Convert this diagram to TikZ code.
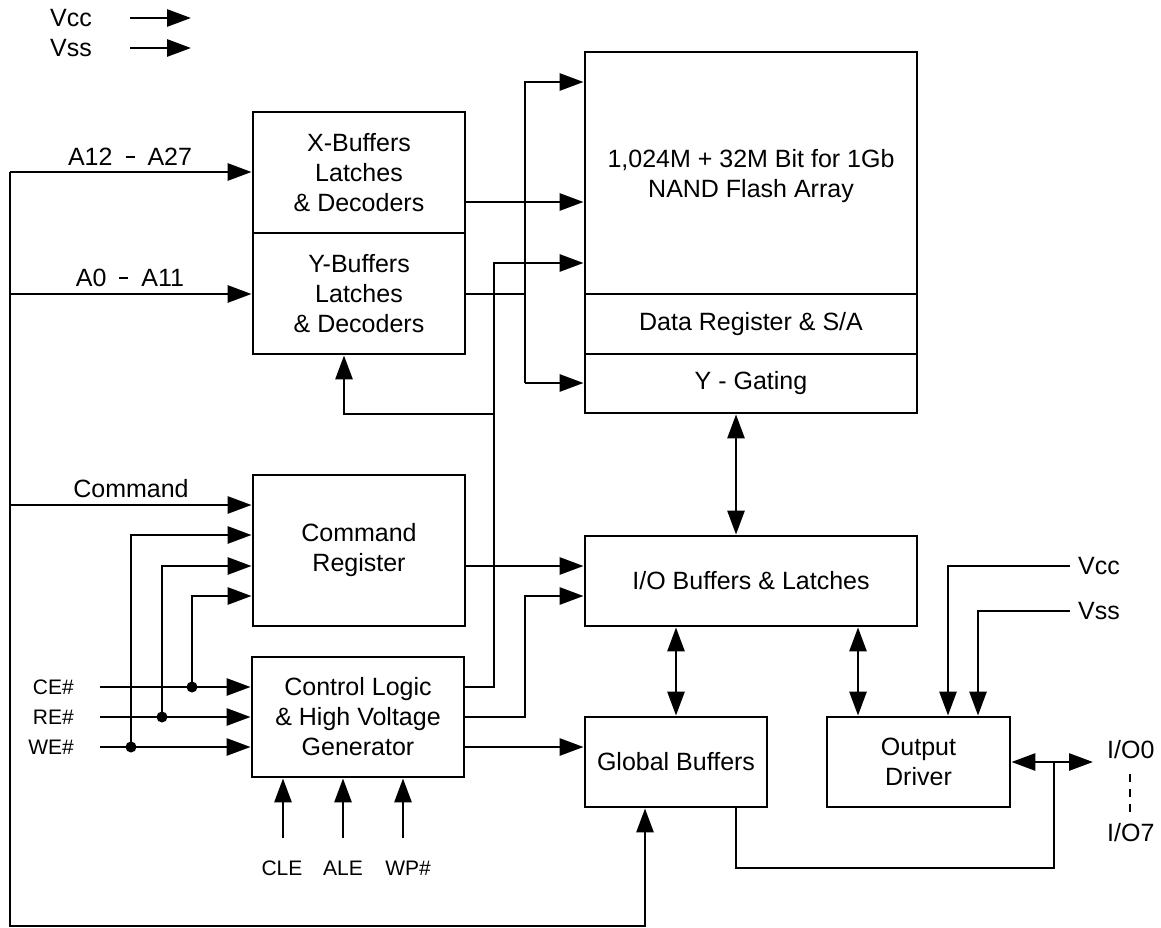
\documentclass[tikz,border=0pt]{standalone}
\usepackage{fontspec}
\setmainfont{Liberation Sans}
\usetikzlibrary{arrows.meta}
\begin{document}
\begin{tikzpicture}[x=1pt,y=-1pt,
  box/.style={draw,line width=2.8pt,inner sep=0pt,align=center,font=\fontsize{25}{30}\selectfont},
  wire/.style={line width=2.8pt},
  arr/.style={line width=2.8pt,-{Triangle[length=24pt,width=17pt]}},
  darr/.style={line width=2.8pt,{Triangle[length=24pt,width=17pt]}-{Triangle[length=24pt,width=17pt]}},
  lbl/.style={inner sep=0pt,font=\fontsize{25}{30}\selectfont},
  slbl/.style={inner sep=0pt,font=\fontsize{21}{25}\selectfont},
  jdot/.style={circle,fill,inner sep=0pt,minimum size=11pt},
  dashwire/.style={line width=2.2pt,dash pattern=on 8pt off 7pt},
]
\useasboundingbox (0,0) rectangle (1161,928);

% ---------- boxes ----------
\node[box,minimum width=212pt,minimum height=121pt] (xbuf) at (359,172.5) {X-Buffers\\Latches\\\& Decoders};
\node[box,minimum width=212pt,minimum height=121pt] (ybuf) at (359,293.5) {Y-Buffers\\Latches\\\& Decoders};
\node[box,minimum width=332pt,minimum height=242pt] (array) at (751,173) {};
\node[lbl,align=center] (arrtxt) at (751,176) {1,024M + 32M Bit for 1Gb\\NAND Flash Array};
\node[box,minimum width=332pt,minimum height=60pt] (dreg) at (751,324) {Data Register \& S/A};
\node[box,minimum width=332pt,minimum height=59pt] (ygate) at (751,383.5) {Y - Gating};
\node[box,minimum width=212pt,minimum height=151pt] (cmdreg) at (359,550.5) {Command\\Register};
\node[box,minimum width=212pt,minimum height=120pt] (ctrl) at (358,717) {Control Logic\\\& High Voltage\\Generator};
\node[box,minimum width=332pt,minimum height=90pt] (iobuf) at (751,581) {I/O Buffers \& Latches};
\node[box,minimum width=182pt,minimum height=90pt] (gbuf) at (676,762) {Global Buffers};
\node[box,minimum width=183pt,minimum height=90pt] (odrv) at (918.5,762) {Output\\Driver};

% ---------- top-left legend ----------
\node[lbl,anchor=west] (vcct) at (50,18) {Vcc};
\node[lbl,anchor=west] (vsst) at (50,48) {Vss};
\coordinate (vcta) at (130,18); \coordinate (vctb) at (191,18);
\coordinate (vsta) at (130,48); \coordinate (vstb) at (191,48);
\draw[arr] (vcta) -- (vctb);
\draw[arr] (vsta) -- (vstb);

% ---------- left bus ----------
\coordinate (bTL) at (10,172);
\coordinate (bA0) at (10,294);
\coordinate (bCmd) at (10,505);
\coordinate (bBL) at (10,926);
\coordinate (gx) at (645,926);
\draw[arr] (bTL) -- (bTL -| xbuf.west);
\draw[arr] (bA0) -- (bA0 -| ybuf.west);
\draw[arr] (bCmd) -- (bCmd -| cmdreg.west);
\draw[arr] (bTL) -- (bBL) -- (gx) -- (gx |- gbuf.south);
\node[lbl] (la12) at (130,157) {A12\hspace{13pt}\rule[8pt]{9pt}{1.3pt}\hspace{13pt}A27};
\node[lbl] (la0) at (130,278) {A0\hspace{13pt}\rule[8pt]{9pt}{1.3pt}\hspace{13pt}A11};
\node[lbl] (lcmd) at (131,489) {Command};

% ---------- CE# RE# WE# ----------
\node[slbl,anchor=east] (lce) at (74,687) {CE\#};
\node[slbl,anchor=east] (lre) at (74,717) {RE\#};
\node[slbl,anchor=east] (lwe) at (74,747) {WE\#};
\coordinate (ce) at (100,687);
\coordinate (re) at (100,717);
\coordinate (we) at (100,747);
\draw[arr] (ce) -- (ce -| ctrl.west);
\draw[arr] (re) -- (re -| ctrl.west);
\draw[arr] (we) -- (we -| ctrl.west);
\node[jdot] (dce) at (192,687) {};
\node[jdot] (dre) at (162,717) {};
\node[jdot] (dwe) at (131,747) {};
\coordinate (k1) at (131,535);
\coordinate (k2) at (162,566);
\coordinate (k3) at (192,596);
\draw[arr] (dwe.center) -- (k1) -- (k1 -| cmdreg.west);
\draw[arr] (dre.center) -- (k2) -- (k2 -| cmdreg.west);
\draw[arr] (dce.center) -- (k3) -- (k3 -| cmdreg.west);

% ---------- CLE ALE WP# ----------
\coordinate (cle) at (283,838);
\coordinate (ale) at (343,838);
\coordinate (wp) at (403,838);
\draw[arr] (cle) -- (cle |- ctrl.south);
\draw[arr] (ale) -- (ale |- ctrl.south);
\draw[arr] (wp) -- (wp |- ctrl.south);
\node[slbl] (lcle) at (282,868) {CLE};
\node[slbl] (lale) at (343,868) {ALE};
\node[slbl] (lwp) at (408,868) {WP\#};

% ---------- control logic outputs ----------
\coordinate (c1) at (494,687);
\coordinate (c1t) at (494,263);
\draw[arr] (c1 -| ctrl.east) -- (c1) -- (c1t) -- (c1t -| array.west);
\coordinate (br) at (494,414);
\coordinate (brl) at (344,414);
\draw[arr] (br) -- (brl) -- (brl |- ybuf.south);
\coordinate (c2) at (525,717);
\coordinate (c2t) at (525,596);
\draw[arr] (ctrl.east) -- (c2) -- (c2t) -- (c2t -| iobuf.west);
\coordinate (c3) at (585,747);
\draw[arr] (c3 -| ctrl.east) -- (c3 -| gbuf.west);
\coordinate (c4) at (585,566);
\draw[arr] (c4 -| cmdreg.east) -- (c4 -| iobuf.west);

% ---------- X / Y buffer outputs ----------
\coordinate (x1) at (585,202);
\draw[arr] (x1 -| xbuf.east) -- (x1 -| array.west);
\coordinate (y1) at (525,294);
\draw[wire] (y1 -| ybuf.east) -- (y1);
\coordinate (v1) at (525,82);
\coordinate (v2) at (525,383);
\draw[arr] (v2) -- (v1) -- (v1 -| array.west);
\draw[arr] (v2) -- (v2 -| ygate.west);

% ---------- bidirectional links ----------
\coordinate (yg) at (736,400);
\draw[darr] (ygate.south -| yg) -- (iobuf.north -| yg);
\draw[darr] (iobuf.south -| gbuf.north) -- (gbuf.north);
\coordinate (od) at (858,700);
\draw[darr] (iobuf.south -| od) -- (odrv.north -| od);

% ---------- power to output driver ----------
\node[lbl,anchor=west] (vccr) at (1078,566) {Vcc};
\node[lbl,anchor=west] (vssr) at (1078,611) {Vss};
\coordinate (vccx) at (948,566);
\coordinate (vssx) at (978,611);
\draw[arr] ([xshift=-8pt]vccr.west) -- (vccx) -- (vccx |- odrv.north);
\draw[arr] ([xshift=-8pt]vssr.west) -- (vssx) -- (vssx |- odrv.north);

% ---------- I/O pins ----------
\node[lbl,anchor=west] (io0) at (1107,750) {I/O0};
\node[lbl,anchor=west] (io7) at (1107,833) {I/O7};
\coordinate (ioa) at (1093,762);
\draw[darr] (odrv.east) -- (ioa);
\coordinate (j) at (1054,762);
\coordinate (jb) at (1054,868);
\coordinate (gb2) at (736,868);
\draw[wire] (j) -- (jb) -- (gb2) -- (gb2 |- gbuf.south);
\coordinate (dsh1) at (1130,774);
\coordinate (dsh2) at (1130,813);
\draw[dashwire] (dsh1) -- (dsh2);
\end{tikzpicture}
\end{document}
